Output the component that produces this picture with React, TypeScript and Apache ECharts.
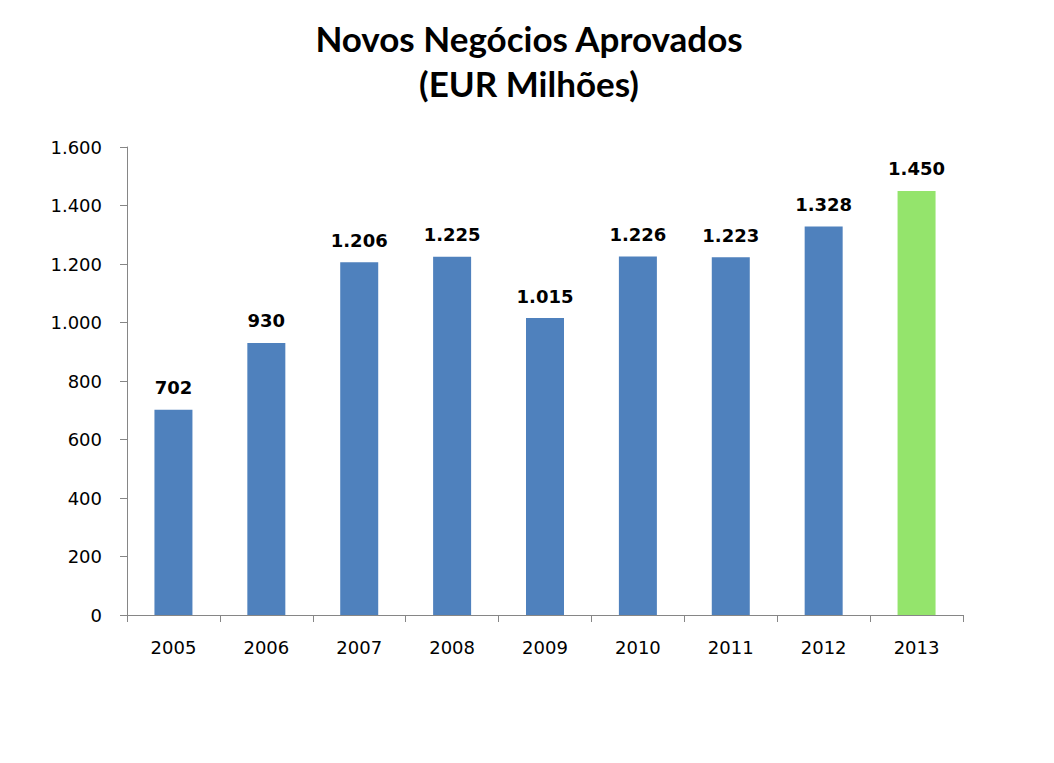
import React, { useEffect, useRef } from "react";
import * as echarts from "echarts";

const categories = ["2005", "2006", "2007", "2008", "2009", "2010", "2011", "2012", "2013"];
const values = [702, 930, 1206, 1225, 1015, 1226, 1223, 1328, 1450];
const barColors = ["#4F81BD", "#4F81BD", "#4F81BD", "#4F81BD", "#4F81BD", "#4F81BD", "#4F81BD", "#4F81BD", "#94E46C"];
const titleText = "Novos Negócios Aprovados\n(EUR Milhões)";

const fmt = (v: number) => {
  const s = Math.round(v).toString();
  return s.replace(/\B(?=(\d{3})+(?!\d))/g, ".");
};

export default function App() {
  const ref = useRef<HTMLDivElement>(null);
  useEffect(() => {
    if (!ref.current) return;
    const chart = echarts.init(ref.current, undefined, { renderer: "svg" });
    chart.setOption({
      animation: false,
      backgroundColor: "#ffffff",
      title: {
        text: titleText,
        top: 10,
        left: 524,
        textAlign: "center",
        textStyle: {
          fontFamily: "Lato",
          fontWeight: "bold",
          fontSize: 35,
          lineHeight: 45,
          color: "#000000",
        },
      },
      grid: { left: 127, right: 91, top: 147, bottom: 148, containLabel: false },
      xAxis: {
        type: "category",
        data: categories,
        axisLine: { show: true, lineStyle: { color: "#868686", width: 1 } },
        axisTick: { show: true, length: 7, alignWithLabel: false, lineStyle: { color: "#868686" } },
        axisLabel: { margin: 23, fontFamily: "DejaVu Sans", fontSize: 18, color: "#000000" },
      },
      yAxis: {
        type: "value",
        min: 0,
        max: 1600,
        interval: 200,
        axisLine: { show: true, lineStyle: { color: "#868686", width: 1 } },
        axisTick: { show: true, length: 7, lineStyle: { color: "#868686" } },
        splitLine: { show: false },
        axisLabel: {
          margin: 25,
          fontFamily: "DejaVu Sans",
          fontSize: 18,
          color: "#000000",
          formatter: (v: number) => fmt(v),
        },
      },
      series: [
        {
          type: "bar",
          data: values.map((v, i) => ({ value: v, itemStyle: { color: barColors[i] } })),
          barWidth: 38,
          label: {
            show: true,
            position: "top",
            distance: 13,
            fontFamily: "DejaVu Sans",
            fontWeight: "bold",
            fontSize: 18,
            color: "#000000",
            formatter: (p: any) => fmt(p.value),
          },
        },
      ],
    });
    return () => chart.dispose();
  }, []);
  return (
    <div
      ref={ref}
      style={{ position: "fixed", left: 0, top: 0, width: 1054, height: 763 }}
    />
  );
}
